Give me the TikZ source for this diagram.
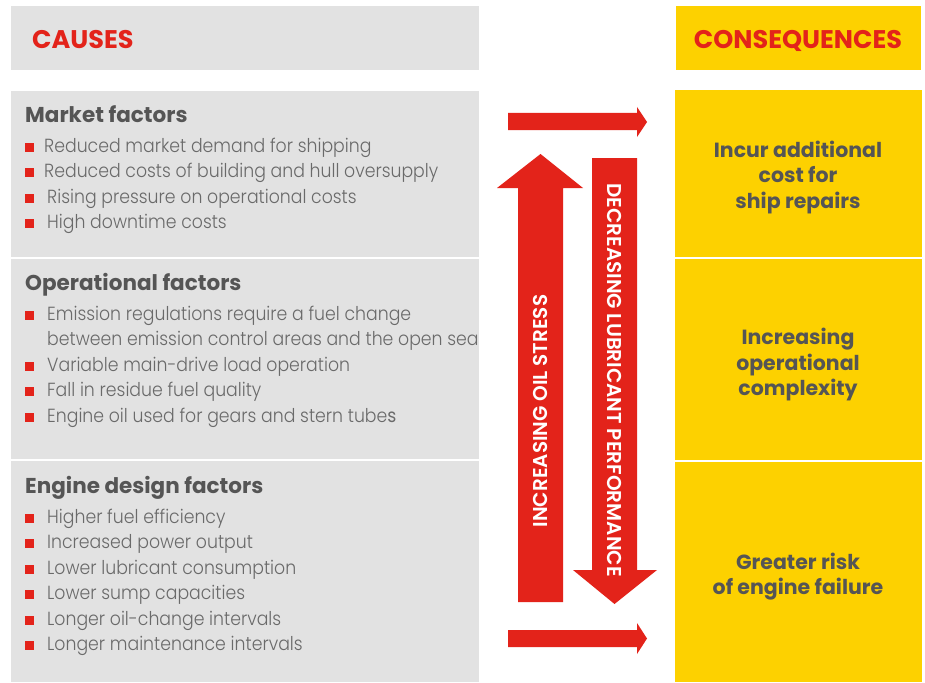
\documentclass[tikz,border=0pt]{standalone}
\usepackage{fontspec}
\setmainfont{Poppins}
\newfontfamily\lightfont{Poppins Light}[FakeStretch=0.91]
\newfontfamily\semifont{Poppins SemiBold}
\newfontfamily\heavyfont{Poppins Bold}
\definecolor{boxgrey}{HTML}{E2E2E2}
\definecolor{shellyellow}{HTML}{FDD100}
\definecolor{shellred}{HTML}{E3231A}
\definecolor{headgrey}{HTML}{555555}
\definecolor{itemgrey}{HTML}{6A6A6A}
\tikzset{
  panel/.style={anchor=north west, inner sep=0pt, outer sep=0pt},
  greypanel/.style={panel, fill=boxgrey},
  yellowpanel/.style={panel, fill=shellyellow},
  headtxt/.style={anchor=base west, inner sep=0pt, text=shellred, font=\fontsize{25.5}{30}\heavyfont},
  sechead/.style={anchor=base west, inner sep=0pt, text=headgrey, font=\fontsize{21.5}{24}\heavyfont},
  itemtxt/.style={anchor=base west, inner sep=0pt, text=itemgrey, font=\fontsize{19}{23}\lightfont},
  bul/.style={fill=shellred, inner sep=0pt, minimum size=9pt, anchor=south west},
  conseq/.style={align=center, inner sep=0pt, text=headgrey, font=\fontsize{20.5}{25.5}\heavyfont},
  arrowfill/.style={fill=shellred},
  arrowtxt/.style={text=white, inner sep=0pt, font=\fontsize{20}{22}\semifont}
}
\newcommand\bitem[4]{%
  \node[bul] (#1b) at (25,#3) {};
  \node[itemtxt] (#1) at (#2,#3) {#4};}
\begin{document}
\begin{tikzpicture}[x=1pt,y=-1pt]
\useasboundingbox (0,0) rectangle (925,682);
\fill[white] (0,0) rectangle (925,682);
% panels
\node[greypanel, minimum width=468pt, minimum height=64pt] (hcauses) at (11,6) {};
\node[yellowpanel, minimum width=245pt, minimum height=64pt] (hcons) at (676,6) {};
\node[greypanel, minimum width=468pt, minimum height=166pt] (market) at (11,91) {};
\node[greypanel, minimum width=468pt, minimum height=200pt] (oper) at (11,259) {};
\node[greypanel, minimum width=468pt, minimum height=221pt] (engine) at (11,461) {};
\node[yellowpanel, minimum width=247pt, minimum height=167pt] (ymarket) at (675,90) {};
\node[yellowpanel, minimum width=247pt, minimum height=201pt] (yoper) at (675,259) {};
\node[yellowpanel, minimum width=247pt, minimum height=220pt] (yengine) at (675,462) {};
% headers
\node[headtxt] (tcauses) at (32,49) {CAUSES};
\node[headtxt, anchor=base] (tcons) at (798,49) {CONSEQUENCES};
% market
\node[sechead] (tmarket) at (25,122) {Market factors};
\bitem{m1}{44}{152}{Reduced market demand for shipping}
\bitem{m2}{44}{177.5}{Reduced costs of building and hull oversupply}
\bitem{m3}{47}{203}{Rising pressure on operational costs}
\bitem{m4}{47}{228.5}{High downtime costs}
% operational
\node[sechead] (toper) at (25,290) {Operational factors};
\bitem{o1}{47}{320}{Emission regulations require a fuel change}
\node[itemtxt] (o1b2) at (47,345.5) {between emission control areas and the open sea};
\bitem{o2}{47}{371}{Variable main-drive load operation}
\bitem{o3}{47}{396.5}{Fall in residue fuel quality}
\bitem{o4}{47}{422}{Engine oil used for gears and stern tube{\fontspec{Poppins}[FakeStretch=0.91]s}}
% engine
\node[sechead] (tengine) at (25,493) {Engine design factors};
\bitem{e1}{47}{523}{Higher fuel efficiency}
\bitem{e2}{47}{548.5}{Increased power output}
\bitem{e3}{47}{574}{Lower lubricant consumption}
\bitem{e4}{47}{599.5}{Lower sump capacities}
\bitem{e5}{47}{625}{Longer oil-change intervals}
\bitem{e6}{47}{650.5}{Longer maintenance intervals}
% consequences
\node[conseq] (c1) at (798,177.5) {Incur additional\\cost for\\ship repairs};
\node[conseq] (c2) at (798,365) {Increasing\\operational\\complexity};
\node[conseq] (c3) at (798,576.5) {Greater risk\\of engine failure};
% arrows
\fill[arrowfill] (508,113) -- (637,113) -- (637,107) -- (647,122) -- (637,137) -- (637,130) -- (508,130) -- cycle;
\fill[arrowfill] (508,630) -- (637,630) -- (637,623) -- (647,638.5) -- (637,654) -- (637,647) -- (508,647) -- cycle;
\fill[arrowfill] (518,602) -- (518,188) -- (497,188) -- (540.5,154) -- (583,188) -- (563,188) -- (563,602) -- cycle;
\fill[arrowfill] (592,158) -- (637,158) -- (637,570) -- (657,570) -- (614.5,604) -- (573,570) -- (592,570) -- cycle;
\node[arrowtxt, rotate=90] (tup) at (540.5,411) {INCREASING OIL STRESS};
\node[arrowtxt, rotate=-90] (tdown) at (614.5,380) {DECREASING LUBRICANT PERFORMANCE};
\end{tikzpicture}
\end{document}
